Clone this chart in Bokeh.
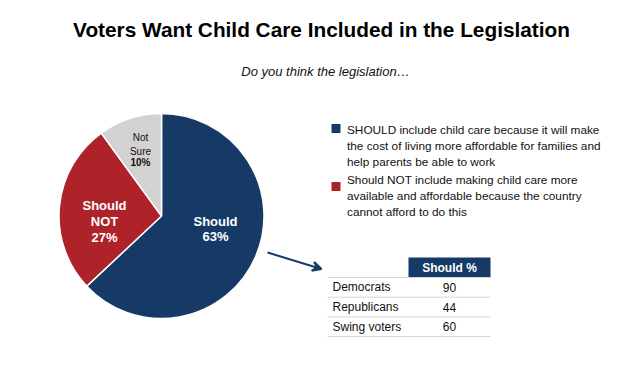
import numpy as np
from bokeh.plotting import figure
from bokeh.models import Range1d, Arrow, VeeHead
from bokeh.core.properties import value
from bokeh.embed import file_html
from bokeh.resources import INLINE

# ---------------- data ----------------
title_text = "Voters Want Child Care Included in the Legislation"
subtitle_text = "Do you think the legislation\u2026"
slice_names = ["Should", "Should NOT", "Not Sure"]
slice_values = [63, 27, 10]
slice_colors = ["#153A66", "#AD2329", "#D3D1D1"]
legend_texts = [
    "SHOULD include child care because it will make\nthe cost of living more affordable for families and\nhelp parents be able to work",
    "Should NOT include making child care more\navailable and affordable because the country\ncannot afford to do this",
]
table_header = "Should %"
table_groups = ["Democrats", "Republicans", "Swing voters"]
table_values = [90, 44, 60]

# ---------------- layout (pixels, y measured from top) ----------------
W, H = 643, 377
FONT = "Liberation Sans"
def Y(y):
    return H - y

p = figure(width=W, height=H, x_range=Range1d(0, W), y_range=Range1d(0, H),
           output_backend="svg", toolbar_location=None, min_border=0)
p.axis.visible = False
p.grid.visible = False
p.outline_line_color = None
p.background_fill_color = "white"

# title + subtitle
p.text(x=[321], y=[Y(29)], text=[title_text], text_font=value(FONT),
       text_font_style="bold", text_font_size="20.8px", text_align="center",
       text_baseline="middle", text_color="black")
p.text(x=[325], y=[Y(71)], text=[subtitle_text], text_font=value(FONT),
       text_font_style="italic", text_font_size="13px", text_align="center",
       text_baseline="middle", text_color="#111111")

# pie
cx, cy, R = 161, Y(215.5), 102.5
vals = np.array(slice_values, dtype=float)
frac = vals / vals.sum()
cum = np.concatenate([[0], np.cumsum(frac)])
starts = np.pi / 2 - 2 * np.pi * cum[:-1]
ends = np.pi / 2 - 2 * np.pi * cum[1:]
p.wedge(x=cx, y=cy, radius=R, start_angle=starts, end_angle=ends,
        direction="clock", fill_color=slice_colors, line_color="white",
        line_width=1.5)

# pie labels
pct = [f"{int(v)}%" for v in slice_values]
p.text(x=[215], y=[Y(228.5)], text=[f"{slice_names[0]}\n{pct[0]}"],
       text_font=value(FONT), text_font_style="bold", text_font_size="13px",
       text_align="center", text_baseline="middle", text_color="white",
       text_line_height=1.05)
p.text(x=[104], y=[Y(221)], text=["Should\nNOT\n" + pct[1]],
       text_font=value(FONT), text_font_style="bold", text_font_size="13px",
       text_align="center", text_baseline="middle", text_color="white",
       text_line_height=1.05)
p.text(x=[140], y=[Y(144)], text=["Not\nSure"],
       text_font=value(FONT), text_font_size="10px",
       text_align="center", text_baseline="middle", text_color="#111111",
       text_line_height=1.2)
p.text(x=[140], y=[Y(161.5)], text=[pct[2]],
       text_font=value(FONT), text_font_style="bold", text_font_size="10px",
       text_align="center", text_baseline="middle", text_color="#111111")

# legend
leg_sq_y = [128, 186]
leg_txt_y = [122, 172.5]
p.rect(x=[335.5] * 2, y=[Y(v) for v in leg_sq_y], width=9, height=9,
       fill_color=slice_colors[:2], line_color=None)
p.text(x=[346.5] * 2, y=[Y(v) for v in leg_txt_y], text=legend_texts,
       text_font=value(FONT), text_font_size="11.8px", text_align="left",
       text_baseline="top", text_color="#111111", text_line_height=1.15)

# arrow
p.add_layout(Arrow(x_start=267, y_start=Y(252), x_end=321, y_end=Y(268.5),
                   line_color="#153A66", line_width=2,
                   end=VeeHead(size=9, line_color="#153A66", line_width=2,
                               fill_color="#153A66")))

# table
tx0, tx1 = 327, 490
hx0 = 408
row_h = 19.7
head_top, head_bot = 257, 277
p.quad(left=[hx0], right=[tx1], top=[Y(head_top)], bottom=[Y(head_bot)],
       fill_color="#153A66", line_color=None)
p.text(x=[(hx0 + tx1) / 2], y=[Y((head_top + head_bot) / 2 + 0.5)], text=[table_header],
       text_font=value(FONT), text_font_style="bold", text_font_size="12px",
       text_align="center", text_baseline="middle", text_color="white")
n = len(table_groups)
line_ys = [head_bot + i * row_h for i in range(n + 1)]
p.segment(x0=[tx0] * (n + 1), x1=[tx1] * (n + 1), y0=[Y(v) for v in line_ys],
          y1=[Y(v) for v in line_ys], line_color="#D6D6D6", line_width=1)
row_c = [head_bot + (i + 0.5) * row_h for i in range(n)]
p.text(x=[332] * n, y=[Y(v) for v in row_c], text=table_groups,
       text_font=value(FONT), text_font_size="12px", text_align="left",
       text_baseline="middle", text_color="#111111")
p.text(x=[449] * n, y=[Y(v) for v in row_c], text=[str(v) for v in table_values],
       text_font=value(FONT), text_font_size="12px", text_align="center",
       text_baseline="middle", text_color="#111111")

open("out.html", "w").write(file_html(p, INLINE))
